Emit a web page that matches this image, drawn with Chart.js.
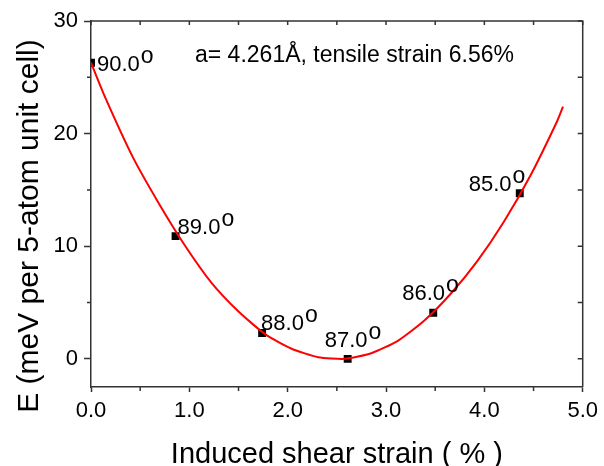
<!DOCTYPE html>
<html>
<head>
<meta charset="utf-8">
<script src="https://cdn.jsdelivr.net/npm/chart.js@4/dist/chart.umd.min.js"></script>
<style>
  html, body { margin: 0; padding: 0; background: #ffffff; }
  #wrap { width: 604px; height: 466px; }
</style>
</head>
<body>
<div id="wrap"><canvas id="c" width="604" height="466"></canvas></div>
<script>
// Computed points: shear strain (%) and energy per cell, one per cell angle
const strainPts = [0.0, 0.86, 1.74, 2.61, 3.48, 4.36];
const energyPts = [26.3, 10.9, 2.3, 0.0, 4.1, 14.7];
const angleLabels = ['90.0', '89.0', '88.0', '87.0', '86.0', '85.0'];

// Fitted curve through the computed points
const fitStrain = [0.0, 0.15, 0.42, 0.69, 0.96, 1.23, 1.50, 1.77, 2.04, 2.31, 2.58, 2.85, 3.12, 3.39, 3.66, 3.93, 4.20, 4.47, 4.74, 4.80];
const fitEnergy = [26.3, 23.1, 18.0, 13.8, 10.0, 6.7, 4.2, 2.2, 0.9, 0.15, 0.0, 0.5, 1.6, 3.4, 5.8, 8.7, 12.2, 16.3, 21.1, 22.4];

// Axis ticks
const xTicks = [0, 1, 2, 3, 4, 5];
const xMinorTicks = [0.5, 1.5, 2.5, 3.5, 4.5];
const yTicks = [0, 10, 20, 30];
const yMinorTicks = [5, 15, 25];

const annotationText = 'a= 4.261\u00C5, tensile strain 6.56%';
const yTitleText = 'E (meV per 5-atom unit cell)';

const FONT = "'Liberation Sans', Arial, sans-serif";
const AXIS_COLOR = '#333333';

// label placement around each marker (pixel offsets of the text baseline start)
const labelOffsets = [[6, 8], [2, -2], [-1, -3], [-23, -12], [-31, -13], [-51, -2]];

const framePlugin = {
  id: 'frame',
  afterDraw(chart) {
    const {ctx, chartArea: a, scales} = chart;
    const xs = scales.x, ys = scales.y;
    ctx.save();
    ctx.strokeStyle = AXIS_COLOR;
    ctx.lineWidth = 1.5;
    // top and right frame lines
    ctx.beginPath();
    ctx.moveTo(a.left, a.top); ctx.lineTo(a.right, a.top); ctx.lineTo(a.right, a.bottom);
    ctx.stroke();
    ctx.beginPath();
    // bottom minor ticks (outward)
    xMinorTicks.forEach(v => { const px = xs.getPixelForValue(v); ctx.moveTo(px, a.bottom); ctx.lineTo(px, a.bottom + 4); });
    // left minor ticks (outward)
    yMinorTicks.forEach(v => { const py = ys.getPixelForValue(v); ctx.moveTo(a.left, py); ctx.lineTo(a.left - 4, py); });
    // top ticks (inward)
    xTicks.concat(xMinorTicks).forEach(v => { const px = xs.getPixelForValue(v); ctx.moveTo(px, a.top); ctx.lineTo(px, a.top + 4); });
    // right ticks (inward)
    yTicks.concat(yMinorTicks).forEach(v => { const py = ys.getPixelForValue(v); ctx.moveTo(a.right, py); ctx.lineTo(a.right - 5, py); });
    ctx.stroke();

    // marker labels with superscript "o"
    const meta = chart.getDatasetMeta(1);
    ctx.fillStyle = '#000000';
    ctx.textBaseline = 'alphabetic';
    ctx.textAlign = 'left';
    meta.data.forEach((pt, i) => {
      const [dx, dy] = labelOffsets[i];
      const x0 = pt.x + dx, y0 = pt.y + dy;
      ctx.font = '22px ' + FONT;
      ctx.fillText(angleLabels[i], x0, y0);
      const w = ctx.measureText(angleLabels[i]).width;
      ctx.font = '23px ' + FONT;
      ctx.fillText('o', x0 + w + 1, y0 - 8);
    });

    // annotation
    ctx.font = '23px ' + FONT;
    ctx.fillText(annotationText, 195, 62);

    // y axis title
    ctx.save();
    ctx.translate(30, 226);
    ctx.rotate(-Math.PI / 2);
    ctx.textAlign = 'center';
    ctx.textBaseline = 'middle';
    ctx.font = '30px ' + FONT;
    ctx.fillText(yTitleText, 0, 0);
    ctx.restore();
    ctx.restore();
  }
};

new Chart(document.getElementById('c'), {
  type: 'scatter',
  data: {
    datasets: [
      {
        label: 'fit',
        data: fitStrain.map((x, i) => ({x, y: fitEnergy[i]})),
        showLine: true,
        borderColor: '#ff0000',
        borderWidth: 2,
        pointRadius: 0,
        tension: 0.2,
        order: 0
      },
      {
        label: 'computed',
        data: strainPts.map((x, i) => ({x, y: energyPts[i]})),
        showLine: false,
        pointStyle: 'rect',
        pointRadius: 5.6,
        backgroundColor: '#000000',
        borderColor: '#000000',
        borderWidth: 0,
        order: 1
      }
    ]
  },
  options: {
    responsive: false,
    animation: false,
    devicePixelRatio: 1,
    layout: { padding: { left: 0, top: 21, right: 18, bottom: 0 } },
    plugins: { legend: { display: false }, tooltip: { enabled: false } },
    scales: {
      x: {
        type: 'linear', position: 'bottom', min: 0, max: 5,
        afterFit(s) { s.height = 79; },
        afterBuildTicks(s) { s.ticks = xTicks.map(v => ({value: v})); },
        ticks: {
          color: '#000000', font: { family: FONT, size: 22 }, padding: 6,
          maxRotation: 0, autoSkip: false,
          callback: v => Number(v).toFixed(1)
        },
        grid: { drawOnChartArea: false, drawTicks: true, tickLength: 5, tickColor: AXIS_COLOR, tickWidth: 1.5 },
        border: { display: true, color: AXIS_COLOR, width: 1.5 },
        title: {
          display: true, text: 'Induced shear strain ( % )', color: '#000000',
          font: { family: FONT, size: 29, lineHeight: 1 }, padding: { top: 0, bottom: -3 }
        }
      },
      y: {
        type: 'linear', position: 'left', min: -2.5, max: 30,
        afterFit(s) { s.width = 91; },
        afterBuildTicks(s) { s.ticks = yTicks.map(v => ({value: v})); },
        ticks: {
          color: '#000000', font: { family: FONT, size: 22 }, padding: 6, autoSkip: false,
          callback: v => String(v)
        },
        grid: { drawOnChartArea: false, drawTicks: true, tickLength: 7, tickColor: AXIS_COLOR, tickWidth: 1.5 },
        border: { display: true, color: AXIS_COLOR, width: 1.5 }
      }
    }
  },
  plugins: [framePlugin]
});
</script>
</body>
</html>
